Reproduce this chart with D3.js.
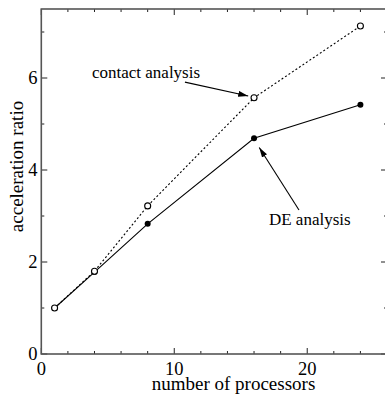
<!DOCTYPE html>
<html>
<head>
<meta charset="utf-8">
<script src="https://cdn.jsdelivr.net/npm/d3@7"></script>
<style>
  body { margin: 0; background: #fff; }
</style>
</head>
<body>
<svg id="chart" width="385" height="399"></svg>
<script>
// data
let processors = [1, 4, 8, 16, 24];
let contactRatio = [1.0, 1.8, 3.22, 5.57, 7.13];
let deRatio = [1.0, 1.78, 2.83, 4.69, 5.42];
let xTickLabels = [0, 10, 20];
let yTickLabels = [0, 2, 4, 6];

let margin = {left: 41.3, top: 9, right: -2, bottom: 45};
let W = 385, H = 399;
let serif = "'Liberation Serif', 'Times New Roman', Times, 'DejaVu Serif', serif";

let svg = d3.select('#chart');
let x = d3.scaleLinear().domain([0, 26]).range([margin.left, W - margin.right]);
let y = d3.scaleLinear().domain([0, 7.5]).range([H - margin.bottom, margin.top]);

let frameColor = '#555';

// ticks (inward, on all four sides)
let g = svg.append('g');
function tickLine(x1, y1, x2, y2) {
    g.append('line').attr('x1', x1).attr('y1', y1).attr('x2', x2).attr('y2', y2)
        .attr('stroke', '#222').attr('stroke-width', 1);
}
d3.range(0, 26.01, 2).forEach(v => {
    let len = v % 10 === 0 ? 6 : 3;
    tickLine(x(v), y(0), x(v), y(0) - len);
    tickLine(x(v), y(7.5), x(v), y(7.5) + len);
});
d3.range(0, 7.51, 1).forEach(v => {
    let len = v % 2 === 0 ? 6 : 3;
    tickLine(x(0), y(v), x(0) + len, y(v));
    tickLine(x(26), y(v), x(26) - len, y(v));
});

// frame
svg.append('rect')
    .attr('x', x(0)).attr('y', y(7.5))
    .attr('width', x(26) - x(0)).attr('height', y(0) - y(7.5))
    .attr('fill', 'none').attr('stroke', frameColor).attr('stroke-width', 1.6);

function addText(sel, size) {
    return sel.append('text')
        .style('font-family', serif)
        .style('font-size', size + 'px')
        .attr('fill', '#000');
}

// tick labels
xTickLabels.forEach(d => {
    addText(svg, 18.5)
        .attr('x', x(d)).attr('y', 375)
        .attr('text-anchor', 'middle')
        .text(d);
});
yTickLabels.forEach(d => {
    addText(svg, 18.5)
        .attr('x', 37.5).attr('y', y(d)).attr('dy', '0.34em')
        .attr('text-anchor', 'end')
        .text(d);
});

// axis titles
addText(svg, 19)
    .attr('x', (152 + 315) / 2).attr('y', 390)
    .attr('text-anchor', 'middle')
    .text('number of processors');
addText(svg, 19)
    .attr('transform', 'translate(23,' + 166.5 + ') rotate(-90)')
    .attr('text-anchor', 'middle')
    .text('acceleration ratio');

// lines
let line = d3.line().x(d => x(d[0])).y(d => y(d[1]));
let contactPts = processors.map((p, i) => [p, contactRatio[i]]);
let dePts = processors.map((p, i) => [p, deRatio[i]]);

svg.append('path').attr('d', line(dePts))
    .attr('fill', 'none').attr('stroke', '#000').attr('stroke-width', 1.1);
svg.append('path').attr('d', line(contactPts))
    .attr('fill', 'none').attr('stroke', '#000').attr('stroke-width', 1.1)
    .attr('stroke-dasharray', '2,2.2');

svg.selectAll('.de').data(dePts).enter().append('circle')
    .attr('class', 'de')
    .attr('cx', d => x(d[0])).attr('cy', d => y(d[1])).attr('r', 3)
    .attr('fill', '#000');
svg.selectAll('.contact').data(contactPts).enter().append('circle')
    .attr('class', 'contact')
    .attr('cx', d => x(d[0])).attr('cy', d => y(d[1])).attr('r', 3)
    .attr('fill', '#fff').attr('stroke', '#000').attr('stroke-width', 1.1);

// annotations
svg.append('defs').append('marker')
    .attr('id', 'head').attr('viewBox', '0 0 10 6')
    .attr('refX', 10).attr('refY', 3)
    .attr('markerWidth', 10).attr('markerHeight', 6)
    .attr('markerUnits', 'userSpaceOnUse')
    .attr('orient', 'auto')
    .append('path').attr('d', 'M0,0L10,3L0,6Z').attr('fill', '#000');

let notes = [
    {label: 'contact analysis', tx: 3.81, ty: 6.01, from: [10.8, 5.91], to: [15.56, 5.61]},
    {label: 'DE analysis', tx: 17.12, ty: 2.80, from: [19.38, 3.13], to: [16.39, 4.49]}
];
notes.forEach(n => {
    addText(svg, 17)
        .attr('x', x(n.tx)).attr('y', y(n.ty))
        .text(n.label);
    svg.append('line')
        .attr('x1', x(n.from[0])).attr('y1', y(n.from[1]))
        .attr('x2', x(n.to[0])).attr('y2', y(n.to[1]))
        .attr('stroke', '#000').attr('stroke-width', 1.1)
        .attr('marker-end', 'url(#head)');
});
</script>
</body>
</html>
